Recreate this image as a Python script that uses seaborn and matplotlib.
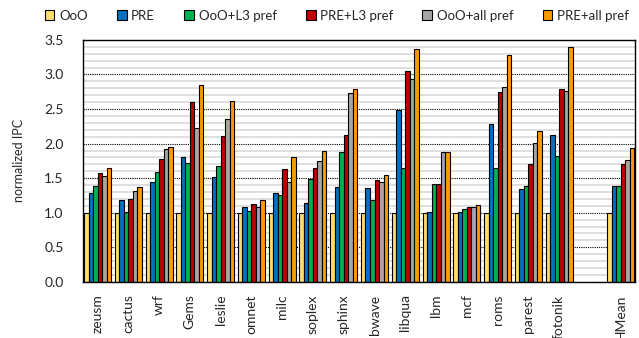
import matplotlib
matplotlib.use("Agg")
import matplotlib.pyplot as plt
import numpy as np
import pandas as pd
import seaborn as sns
from matplotlib.patches import Patch
from matplotlib.ticker import MultipleLocator

# Benchmarks (gap before the harmonic mean)
benchmarks = ["zeusm", "cactus", "wrf", "Gems", "leslie", "omnet", "milc", "soplex",
              "sphinx", "bwave", "libqua", "lbm", "mcf", "roms", "parest", "fotonik",
              "HMean"]
configs = ["OoO", "PRE", "OoO+L3 pref", "PRE+L3 pref", "OoO+all pref", "PRE+all pref"]

ooo = [1.00, 1.00, 1.00, 1.00, 1.00, 1.00, 1.00, 1.00, 1.00, 1.00, 1.00, 1.00,
       1.00, 1.00, 1.00, 1.00, 1.00]
pre = [1.28, 1.18, 1.45, 1.80, 1.52, 1.09, 1.28, 1.14, 1.37, 1.36, 2.49, 1.01,
       1.01, 2.29, 1.34, 2.13, 1.38]
ooo_l3 = [1.39, 1.01, 1.59, 1.72, 1.67, 1.03, 1.25, 1.49, 1.88, 1.18, 1.64, 1.42,
          1.06, 1.64, 1.38, 1.82, 1.39]
pre_l3 = [1.57, 1.20, 1.78, 2.60, 2.11, 1.13, 1.63, 1.64, 2.13, 1.47, 3.05, 1.41,
          1.08, 2.745, 1.70, 2.79, 1.70]
ooo_all = [1.53, 1.32, 1.92, 2.23, 2.35, 1.09, 1.45, 1.75, 2.73, 1.45, 2.93, 1.875,
           1.09, 2.82, 2.01, 2.76, 1.77]
pre_all = [1.65, 1.375, 1.95, 2.85, 2.62, 1.19, 1.80, 1.89, 2.79, 1.55, 3.37, 1.885,
           1.11, 3.28, 2.18, 3.39, 1.93]

colors = ["#FFDC6E", "#0070C0", "#00B050", "#C00000", "#A6A6A6", "#FF9900"]

series = [ooo, pre, ooo_l3, pre_l3, ooo_all, pre_all]
rows = []
for cfg, vals in zip(configs, series):
    for b, v in zip(benchmarks, vals):
        rows.append({"bench": b, "config": cfg, "ipc": v})
df = pd.DataFrame(rows)

order = benchmarks[:-1] + [" "] + [benchmarks[-1]]

sns.set_style("white")
plt.rcParams["font.family"] = ["Lato", "DejaVu Sans"]

fig = plt.figure(figsize=(6.39, 3.38), dpi=100)
ax = fig.add_axes([0.130, 0.166, 0.864, 0.716])

sns.barplot(data=df, x="bench", y="ipc", hue="config", order=order,
            hue_order=configs, palette=colors, width=0.88, saturation=1,
            edgecolor="black", linewidth=0.8, legend=False, ax=ax, errorbar=None)

ax.set_ylim(0, 3.5)
ax.set_xlim(-0.47, len(order) - 0.53)
ax.yaxis.set_major_locator(MultipleLocator(0.5))
ax.yaxis.set_minor_locator(MultipleLocator(0.1))
ax.yaxis.set_major_formatter(matplotlib.ticker.FormatStrFormatter("%.1f"))
ax.set_axisbelow(True)
ax.grid(which="minor", axis="y", color="#D9D9D9", linewidth=1.2)
ax.grid(which="major", axis="y", color="black", linewidth=0.8, linestyle=(0, (1, 1)))
ax.grid(which="both", axis="x", visible=False)

ax.set_xlabel("")
ax.set_ylabel("normalized IPC", fontsize=9, labelpad=14)
ax.set_xticks(range(len(order)))
ax.set_xticklabels(order, rotation=90, fontsize=10)
ax.tick_params(axis="x", length=0, pad=9)
ax.tick_params(axis="y", which="both", length=0, pad=14, labelsize=10)

for s in ax.spines.values():
    s.set_visible(True)
    s.set_color("black")
    s.set_linewidth(1.0)

handles = [Patch(facecolor=c, edgecolor="black", linewidth=0.8) for c in colors]
fig.legend(handles, configs, loc="center", bbox_to_anchor=(0.527, 0.953), ncol=6,
           frameon=False, fontsize=9.5, handlelength=0.75, handleheight=0.75,
           handletextpad=0.35, columnspacing=2.2)

fig.savefig("out.png", dpi=100)
